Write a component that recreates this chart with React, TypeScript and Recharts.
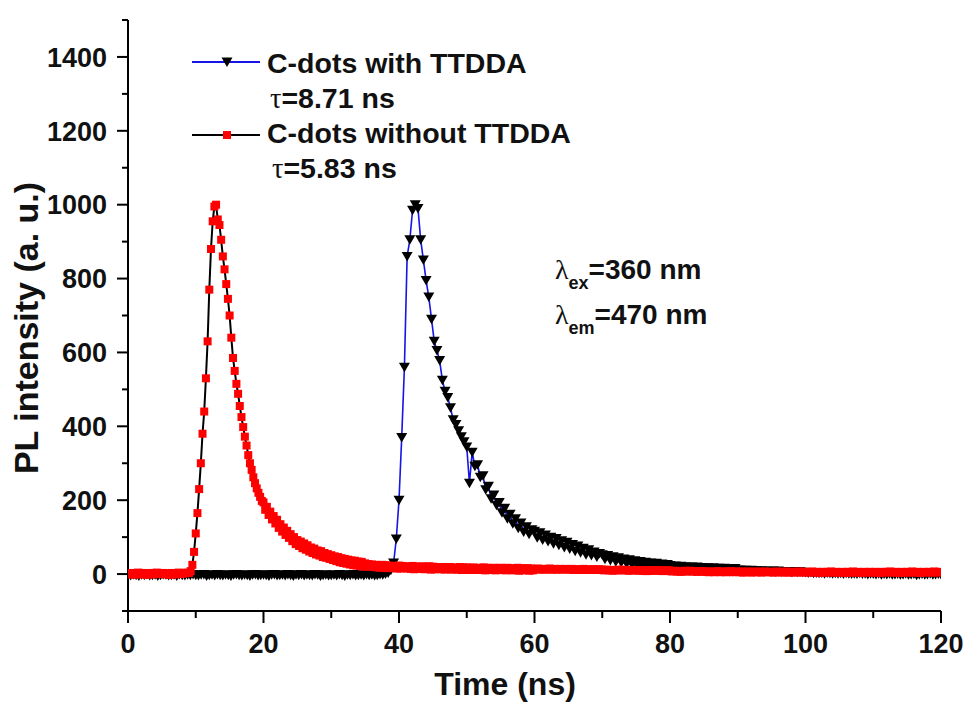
import { Line, LineChart, XAxis, YAxis } from "recharts";

const FONT = '"Liberation Sans", Arial, Helvetica, sans-serif';
const GREEK = '"Liberation Serif", "Times New Roman", serif';

// channel widths (ns) of the two decay traces
const STEP_WITH = 0.4;
const STEP_WITHOUT = 0.25;

// C-dots with TTDDA, t = 0 .. 120 ns every 0.4 ns
const withTTDDA: number[] = [
  -2, -4, -1, -3, -5, -2, -3, -1, -4, -3, -2, -5, -3, -1, -2, -4, -3, -2, -5, -1, -3, -4, -2, -3, -1,
  -3, -4, -2, -1, -5, -3, -2, -4, -1, -3, -4, -2, -3, -5, -2, -1, -3, -4, -2, -3, -5, -2, -1, -4, -3,
  -2, -3, -5, -2, -1, -4, -3, -2, -4, -1, -3, -5, -2, -3, -1, -4, -2, -3, -4, -1, -2, -5, -3, -2, -4,
  -3, -2, -4, -1, -3, -5, -2, -3, -1, -4, -3, -2, -4, -1, -3, -2, -4, -3, -1, -2, 0, 3, 10, 30, 95,
  200, 370, 560, 860, 905, 985, 1000, 990, 905, 850, 795, 750, 690, 630, 605, 578, 525, 495, 478, 450, 418, 405, 388, 372, 358,
  344, 246, 330, 292, 296, 262, 266, 228, 238, 204, 214, 186, 194, 166, 178, 150, 162, 136, 150, 124, 138, 114, 128, 108, 120,
  116, 98, 112, 92, 106, 88, 100, 82, 96, 78, 90, 72, 86, 68, 80, 62, 76, 58, 70, 52, 66, 50, 60, 46, 56,
  52, 40, 50, 37, 47, 33, 44, 31, 41, 28, 39, 25, 36, 23, 34, 21, 32, 19, 30, 17, 29, 16, 27, 15, 26,
  23, 15, 22, 14, 21, 13, 20, 12, 19, 11, 19, 10, 18, 10, 17, 9, 17, 8, 16, 8, 16, 7, 15, 7, 15,
  10, 11, 9, 10, 8, 10, 8, 9, 7, 9, 7, 8, 7, 8, 6, 8, 6, 7, 6, 7, 5, 7, 5, 6, 5,
  4, 3, 4, 2, 3, 2, 3, 1, 3, 2, 1, 2, 1, 2, 0, 2, 1, 0, 1, 0, 2, 0, 1, -1, 1,
  0, -1, 1, -2, 0, -1, 1, -2, -1, 0, -2, -1, 1, -2, -1, 0, -3, -1, 0, -2, -1, 1, -2, -1, 0,
  -1,
];

// C-dots without TTDDA, t = 0 .. 120 ns every 0.25 ns
const withoutTTDDA: number[] = [
  2, -1, 3, 0, -2, 1, 4, 0, -1, 3, 1, -2, 2, 0, 3, -1, 1, 4, 0, 2,
  1, 3, -1, 2, 0, -2, 3, 1, -1, 2, 4, 0, 1, 3, 2, 4, 3, 8, 25, 60,
  110, 165, 230, 300, 380, 440, 530, 630, 770, 880, 955, 995, 1000, 960, 945, 905, 860, 825, 785, 745,
  700, 640, 585, 550, 515, 488, 455, 425, 398, 372, 348, 322, 300, 282, 262, 246, 232, 220, 209, 198,
  194, 174, 182, 160, 169, 148, 157, 137, 147, 125, 135, 115, 126, 106, 117, 98, 108, 89, 100, 81,
  92, 76, 88, 70, 83, 66, 78, 61, 72, 57, 69, 53, 64, 50, 62, 46, 57, 44, 54, 41,
  51, 38, 48, 35, 46, 32, 43, 30, 41, 28, 39, 26, 37, 24, 36, 23, 34, 22, 33, 20,
  29, 21, 27, 20, 26, 19, 25, 18, 24, 17, 25, 17, 24, 16, 23, 17, 22, 16, 22, 15,
  23, 15, 22, 16, 21, 15, 20, 14, 22, 13, 21, 15, 19, 14, 21, 13, 20, 14, 21, 12,
  20, 13, 19, 14, 18, 13, 19, 12, 18, 14, 19, 12, 18, 13, 17, 12, 19, 11, 18, 12,
  18, 11, 17, 12, 18, 11, 16, 12, 17, 11, 18, 10, 17, 11, 16, 12, 17, 10, 16, 11,
  17, 11, 16, 10, 17, 11, 15, 10, 16, 11, 17, 9, 16, 10, 15, 11, 16, 9, 15, 10,
  14, 13, 15, 12, 14, 13, 12, 14, 13, 15, 12, 13, 14, 12, 13, 14, 12, 13, 14, 13,
  13, 12, 14, 11, 13, 12, 11, 13, 12, 14, 11, 12, 13, 11, 12, 13, 11, 12, 13, 12,
  12, 10, 11, 12, 10, 11, 9, 11, 10, 12, 10, 11, 12, 10, 11, 10, 9, 11, 10, 11,
  11, 9, 10, 11, 9, 10, 8, 10, 9, 11, 9, 10, 11, 9, 10, 9, 8, 10, 9, 10,
  9, 7, 8, 9, 7, 8, 6, 8, 7, 9, 7, 8, 9, 7, 8, 7, 6, 8, 7, 8,
  7, 6, 7, 5, 6, 7, 5, 6, 8, 6, 5, 7, 6, 5, 7, 6, 8, 5, 6, 7,
  6, 5, 7, 4, 6, 5, 7, 6, 4, 6, 5, 7, 5, 6, 4, 6, 7, 5, 6, 5,
  6, 4, 5, 7, 5, 6, 4, 6, 5, 7, 4, 5, 6, 4, 6, 5, 7, 5, 4, 6,
  5, 6, 4, 5, 7, 5, 4, 6, 5, 3, 6, 5, 4, 6, 5, 7, 4, 5, 6, 4,
  5, 4, 6, 5, 3, 6, 4, 5, 7, 5, 4, 6, 5, 3, 5, 6, 4, 5, 6, 4,
  5, 6, 4, 5, 3, 6, 5, 4, 6, 5, 7, 4, 5, 6, 4, 5, 3, 6, 5, 4,
  6, 4, 5, 7, 5, 4, 6, 5, 3, 5, 6, 4, 5, 6, 4, 5, 7, 5, 4, 6,
  5,
];

const xTicks = [0, 10, 20, 30, 40, 50, 60, 70, 80, 90, 100, 110, 120];
const xLabels = [0, 20, 40, 60, 80, 100, 120];
const yTicks = [-100, 0, 100, 200, 300, 400, 500, 600, 700, 800, 900, 1000, 1100, 1200, 1300, 1400, 1500];
const yLabels = [0, 200, 400, 600, 800, 1000, 1200, 1400];

const withData = withTTDDA.map((v, i) => ({ t: i * STEP_WITH, v }));
const withoutData = withoutTTDDA.map((v, i) => ({ t: i * STEP_WITHOUT, v }));

function YTick(props: any) {
  const { x, y, payload } = props;
  const major = yLabels.includes(payload.value);
  return (
    <g>
      <line x1={x - (major ? 11 : 6)} x2={x} y1={y} y2={y} stroke="#000" strokeWidth={2} />
      {major && (
        <text x={x - 21} y={y} dy="0.36em" textAnchor="end" fontFamily={FONT} fontWeight="bold" fontSize={27} fill="#111">
          {payload.value}
        </text>
      )}
    </g>
  );
}

function XTick(props: any) {
  const { x, y, payload } = props;
  const major = xLabels.includes(payload.value);
  return (
    <g>
      <line x1={x} x2={x} y1={y} y2={y + (major ? 12 : 7)} stroke="#000" strokeWidth={2} />
      {major && (
        <text x={x} y={y + 42} textAnchor="middle" fontFamily={FONT} fontWeight="bold" fontSize={27} fill="#111">
          {payload.value}
        </text>
      )}
    </g>
  );
}

function TriangleDot(props: any) {
  const { cx, cy, index } = props;
  if (cx == null || cy == null) return <g key={index} />;
  return <path key={index} d={`M${cx - 5.5},${cy - 4.5}L${cx + 5.5},${cy - 4.5}L${cx},${cy + 5}Z`} fill="#000" />;
}

function SquareDot(props: any) {
  const { cx, cy, index } = props;
  if (cx == null || cy == null) return <g key={index} />;
  return <rect key={index} x={cx - 4} y={cy - 4} width={8} height={8} fill="#ff0000" />;
}

export default function App() {
  return (
    <div style={{ position: "absolute", left: 0, top: 0, width: 969, height: 706, background: "#fff" }}>
      <LineChart width={969} height={706} margin={{ top: 20, right: 28, bottom: 0, left: 0 }}>
        <XAxis
          type="number"
          dataKey="t"
          domain={[0, 120]}
          ticks={xTicks}
          interval={0}
          height={95}
          tickLine={false}
          tickSize={0}
          tickMargin={0}
          tick={<XTick />}
          axisLine={{ stroke: "#000", strokeWidth: 2 }}
          allowDataOverflow
        />
        <YAxis
          type="number"
          domain={[-100, 1500]}
          ticks={yTicks}
          interval={0}
          width={128}
          tickLine={false}
          tickSize={0}
          tickMargin={0}
          tick={<YTick />}
          axisLine={{ stroke: "#000", strokeWidth: 2 }}
          allowDataOverflow
        />
        <Line
          data={withData}
          dataKey="v"
          name="C-dots with TTDDA"
          stroke="#1515e6"
          strokeWidth={1.6}
          dot={TriangleDot}
          activeDot={false}
          isAnimationActive={false}
        />
        <Line
          data={withoutData}
          dataKey="v"
          name="C-dots without TTDDA"
          stroke="#000"
          strokeWidth={2}
          dot={SquareDot}
          activeDot={false}
          isAnimationActive={false}
        />
      </LineChart>
      <svg width={969} height={706} style={{ position: "absolute", left: 0, top: 0, pointerEvents: "none" }}>
        <g fontFamily={FONT} fontWeight="bold" fill="#111">
          <line x1={192} x2={260} y1={62} y2={62} stroke="#1515e6" strokeWidth={2} />
          <path d="M221.5,57.5L232.5,57.5L227,67Z" fill="#000" />
          <text x={267} y={73} fontSize={28.5}>C-dots with TTDDA</text>
          <text x={270} y={108} fontSize={28.5}>
            <tspan fontFamily={GREEK} fontWeight="normal">τ</tspan>=8.71 ns
          </text>
          <line x1={192} x2={260} y1={135} y2={135} stroke="#000" strokeWidth={2} />
          <rect x={223} y={131} width={8} height={8} fill="#ff0000" />
          <text x={267} y={143} fontSize={28.5}>C-dots without TTDDA</text>
          <text x={272} y={178} fontSize={28.5}>
            <tspan fontFamily={GREEK} fontWeight="normal">τ</tspan>=5.83 ns
          </text>

          <text x={555} y={279} fontSize={28}>
            <tspan fontFamily={GREEK} fontWeight="normal">λ</tspan>
            <tspan fontSize={18} dy={10}>ex</tspan>
            <tspan dy={-10}>=360 nm</tspan>
          </text>
          <text x={555} y={324} fontSize={28}>
            <tspan fontFamily={GREEK} fontWeight="normal">λ</tspan>
            <tspan fontSize={18} dy={10}>em</tspan>
            <tspan dy={-10}>=470 nm</tspan>
          </text>

          <text x={505} y={695} fontSize={32} textAnchor="middle">Time (ns)</text>
          <text x={38} y={328} fontSize={34} textAnchor="middle" transform="rotate(-90 38 328)">
            PL intensity (a. u.)
          </text>
        </g>
      </svg>
    </div>
  );
}
